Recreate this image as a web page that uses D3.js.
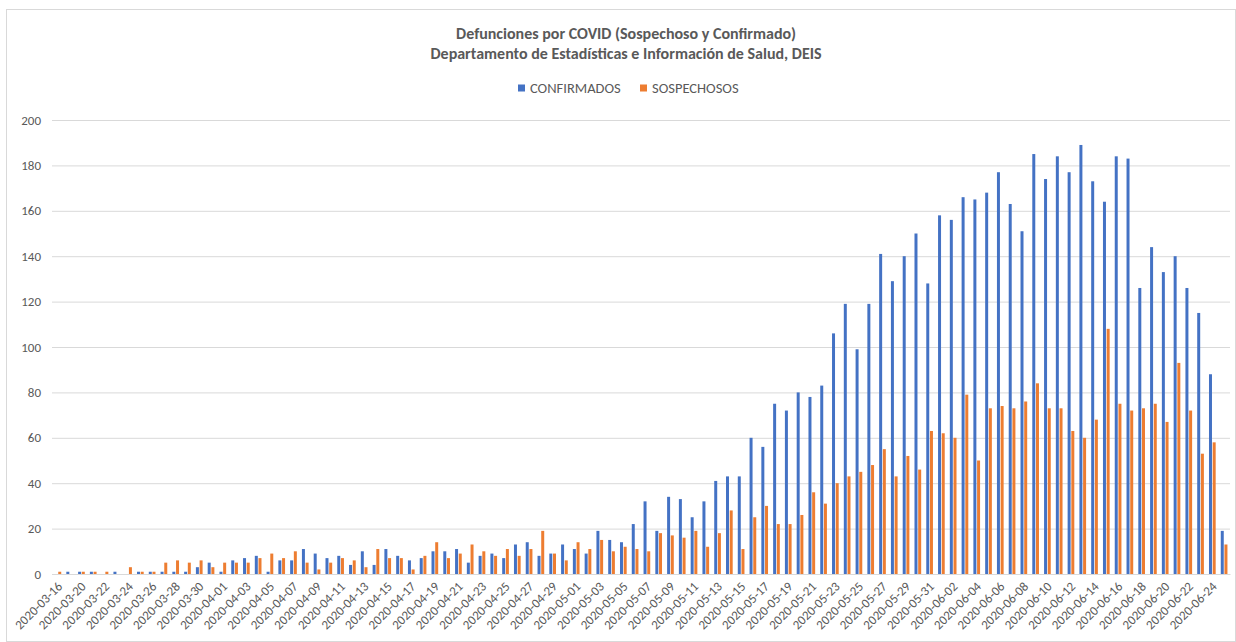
<!DOCTYPE html>
<html>
<head>
<meta charset="utf-8">
<script src="https://cdn.jsdelivr.net/npm/d3@7"></script>
<style>
  body { margin: 0; background: #fff; }
  svg { display: block; }
  text { font-family: Carlito, Calibri, "Open Sans", sans-serif; fill: #595959; }
</style>
</head>
<body>
<div id="chart"></div>
<script>
// fechas (el eje es de texto, por eso falta un dia entre 03-16 y 03-20)
var fechas = [
  "2020-03-16","2020-03-18","2020-03-20","2020-03-21","2020-03-22","2020-03-23","2020-03-24","2020-03-25","2020-03-26","2020-03-27",
  "2020-03-28","2020-03-29","2020-03-30","2020-03-31","2020-04-01","2020-04-02","2020-04-03","2020-04-04","2020-04-05","2020-04-06",
  "2020-04-07","2020-04-08","2020-04-09","2020-04-10","2020-04-11","2020-04-12","2020-04-13","2020-04-14","2020-04-15","2020-04-16",
  "2020-04-17","2020-04-18","2020-04-19","2020-04-20","2020-04-21","2020-04-22","2020-04-23","2020-04-24","2020-04-25","2020-04-26",
  "2020-04-27","2020-04-28","2020-04-29","2020-04-30","2020-05-01","2020-05-02","2020-05-03","2020-05-04","2020-05-05","2020-05-06",
  "2020-05-07","2020-05-08","2020-05-09","2020-05-10","2020-05-11","2020-05-12","2020-05-13","2020-05-14","2020-05-15","2020-05-16",
  "2020-05-17","2020-05-18","2020-05-19","2020-05-20","2020-05-21","2020-05-22","2020-05-23","2020-05-24","2020-05-25","2020-05-26",
  "2020-05-27","2020-05-28","2020-05-29","2020-05-30","2020-05-31","2020-06-01","2020-06-02","2020-06-03","2020-06-04","2020-06-05",
  "2020-06-06","2020-06-07","2020-06-08","2020-06-09","2020-06-10","2020-06-11","2020-06-12","2020-06-13","2020-06-14","2020-06-15",
  "2020-06-16","2020-06-17","2020-06-18","2020-06-19","2020-06-20","2020-06-21","2020-06-22","2020-06-23","2020-06-24","2020-06-25"
];

var confirmados = [
  0,1,1,1,0,1,0,1,1,1,
  1,1,3,5,1,6,7,8,1,6,
  6,11,9,7,8,4,10,4,11,8,
  6,7,10,10,11,5,8,9,7,13,
  14,8,9,13,11,9,19,15,14,22,
  32,19,34,33,25,32,41,43,43,60,
  56,75,72,80,78,83,106,119,99,119,
  141,129,140,150,128,158,156,166,165,168,
  177,163,151,185,174,184,177,189,173,164,
  184,183,126,144,133,140,126,115,88,19
];

var sospechosos = [
  1,0,1,1,1,0,3,1,1,5,
  6,5,6,3,5,5,5,7,9,7,
  10,5,2,5,7,6,3,11,7,7,
  2,8,14,7,9,13,10,8,11,8,
  11,19,9,6,14,11,15,10,12,11,
  10,18,17,16,19,12,18,28,11,25,
  30,22,22,26,36,31,40,43,45,48,
  55,43,52,46,63,62,60,79,50,73,
  74,73,76,84,73,73,63,60,68,108,
  75,72,73,75,67,93,72,53,58,13
];

var series = ["CONFIRMADOS", "SOSPECHOSOS"];
var colores = ["#4472C4", "#ED7D31"];
var yTicks = [0, 20, 40, 60, 80, 100, 120, 140, 160, 180, 200];

const width = 1236;
const height = 642;

const padding = { top: 120, right: 6, bottom: 68, left: 52 };

var rows = fechas.map(function(f, i) {
  return { fecha: f, valores: [confirmados[i], sospechosos[i]] };
});

var svg = d3.select("#chart").append("svg")
  .attr("width", width)
  .attr("height", height);

// borde del area del grafico
svg.append("rect")
  .attr("x", 6.5).attr("y", 9.5)
  .attr("width", width - 7).attr("height", height - 10)
  .attr("fill", "none")
  .attr("stroke", "#d9d9d9");

var xScale = d3.scaleBand().domain(fechas).range([padding.left, width - padding.right]);
var xInner = d3.scaleBand().domain(series).range([0, xScale.bandwidth()])
  .paddingInner(0.19).paddingOuter(0.69);
var yScale = d3.scaleLinear().domain([0, 200]).range([height - padding.bottom, padding.top]);

// eje y con lineas de cuadricula
var yAxis = svg.append("g")
  .attr("transform", "translate(" + padding.left + ",0)")
  .call(d3.axisLeft(yScale).tickValues(yTicks)
    .tickSize(-(width - padding.left - padding.right))
    .tickPadding(11));
yAxis.select(".domain").remove();
yAxis.selectAll("line").attr("stroke", "#d9d9d9").attr("stroke-width", 1);
yAxis.selectAll("text").style("font-size", "13px").attr("fill", "#595959");

// barras
var grupos = svg.append("g").selectAll("g")
  .data(rows)
  .enter()
  .append("g")
  .attr("transform", function(d) { return "translate(" + xScale(d.fecha) + ",0)"; });

grupos.selectAll("rect")
  .data(function(d) { return d.valores.map(function(v, j) { return { serie: series[j], v: v, j: j }; }); })
  .enter()
  .append("rect")
  .attr("x", function(d) { return xInner(d.serie); })
  .attr("width", xInner.bandwidth())
  .attr("y", function(d) { return yScale(d.v); })
  .attr("height", function(d) { return yScale(0) - yScale(d.v); })
  .attr("fill", function(d) { return colores[d.j]; });

// eje x, etiqueta cada dos categorias
var xAxis = svg.append("g")
  .attr("transform", "translate(0," + yScale(0) + ")")
  .call(d3.axisBottom(xScale)
    .tickValues(fechas.filter(function(f, i) { return i % 2 == 0; }))
    .tickSize(0).tickPadding(0));
xAxis.select(".domain").attr("stroke", "#d9d9d9");
xAxis.selectAll("text")
  .style("font-size", "13px")
  .attr("fill", "#595959")
  .attr("text-anchor", "end")
  .attr("dy", "0.35em")
  .attr("transform", "translate(2,10) rotate(-45)");

// titulo
var titulo = svg.append("text")
  .attr("x", 626).attr("y", 39)
  .attr("text-anchor", "middle")
  .style("font-size", "16px")
  .style("font-weight", "bold");
titulo.append("tspan").attr("x", 626).text("Defunciones por COVID (Sospechoso y Confirmado)");
titulo.append("tspan").attr("x", 626).attr("dy", 20).text("Departamento de Estadísticas  e Información de Salud, DEIS");

// leyenda
var leyenda = svg.append("g").selectAll("g")
  .data(series)
  .enter()
  .append("g")
  .attr("transform", function(d, i) { return "translate(" + (518 + i * 122) + ",88)"; });
leyenda.append("rect")
  .attr("x", 0).attr("y", -3.5)
  .attr("width", 7).attr("height", 7)
  .attr("fill", function(d, i) { return colores[i]; });
leyenda.append("text")
  .attr("x", 12).attr("dy", "0.35em")
  .style("font-size", "14.5px")
  .text(function(d) { return d; });
</script>
</body>
</html>
